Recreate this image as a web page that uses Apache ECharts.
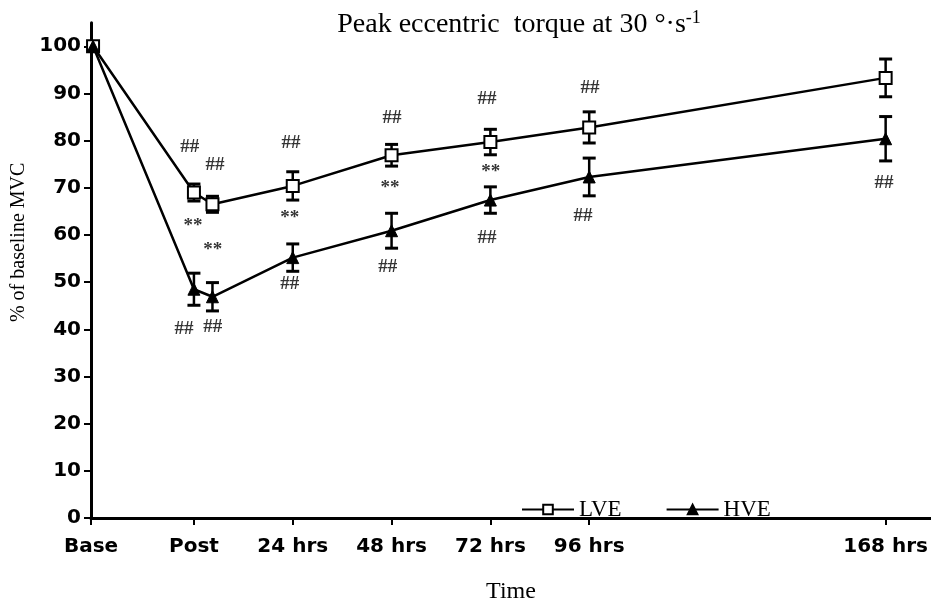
<!DOCTYPE html>
<html>
<head>
<meta charset="utf-8">
<script src="https://cdn.jsdelivr.net/npm/echarts@6/dist/echarts.min.js"></script>
<style>html,body{margin:0;padding:0;background:#fff;}#c{width:931px;height:609px;}</style>
</head>
<body>
<div id="c"></div>
<script>
// Time points (hours relative to end of exercise; Base drawn at the start of the axis)
var hours = [-24.5, 0, 4.5, 24, 48, 72, 96, 168];
var lveMean = [100, 69.0, 66.5, 70.4, 76.9, 79.7, 82.8, 93.3];
var lveErr  = [0, 1.8, 1.7, 3.0, 2.3, 2.7, 3.3, 4.0];
var hveMean = [100, 48.5, 46.9, 55.2, 60.9, 67.4, 72.3, 80.4];
var hveErr  = [0, 3.4, 3.0, 2.9, 3.7, 2.8, 4.0, 4.7];

// x tick positions and labels
var xTickValues = [-25, 0, 24, 48, 72, 96, 168];
var xTickLabels = ['Base', 'Post', '24 hrs', '48 hrs', '72 hrs', '96 hrs', '168 hrs'];
var yTickValues = [0, 10, 20, 30, 40, 50, 60, 70, 80, 90, 100];

// significance annotations
var annoX    = [-1.0, 5.1, 23.6, 48.1, 71.2, 96.2,   -0.2, 4.6, 23.3, 47.6, 72.1,   -2.4, 4.6, 23.3, 47.1, 71.2, 94.5, 167.6];
var annoY    = [78.6, 74.8, 79.5, 84.7, 88.8, 91.2,   61.9, 56.7, 63.6, 69.9, 73.3,   40.1, 40.5, 49.5, 53.1, 59.4, 64.0, 71.1];
var annoText = ['##','##','##','##','##','##',  '**','**','**','**','**',  '##','##','##','##','##','##','##'];

var chart = echarts.init(document.getElementById('c'));

function pairs(xs, ys) { return xs.map(function (x, i) { return [x, ys[i]]; }); }
function errData(xs, m, e) { return xs.map(function (x, i) { return [x, m[i] - e[i], m[i] + e[i]]; }).filter(function (d, i) { return e[i] > 0; }); }

function errRender(params, api) {
  var x = api.value(0);
  var lo = api.coord([x, api.value(1)]);
  var hi = api.coord([x, api.value(2)]);
  var w = 6.5;
  return {
    type: 'group',
    children: [
      { type: 'line', shape: { x1: lo[0], y1: lo[1], x2: hi[0], y2: hi[1] }, style: { stroke: '#000', lineWidth: 2.5 } },
      { type: 'line', shape: { x1: lo[0] - w, y1: lo[1], x2: lo[0] + w, y2: lo[1] }, style: { stroke: '#000', lineWidth: 3 } },
      { type: 'line', shape: { x1: hi[0] - w, y1: hi[1], x2: hi[0] + w, y2: hi[1] }, style: { stroke: '#000', lineWidth: 3 } }
    ]
  };
}

var annoData = annoX.map(function (x, i) { return { value: [x, annoY[i]], name: annoText[i] }; });

var option = {
  animation: false,
  backgroundColor: '#fff',
  title: {
    text: 'Peak eccentric  torque at 30 °·s{sup|-1}',
    left: 514, top: 4, textAlign: 'center',
    textStyle: {
      fontFamily: 'Liberation Serif', fontSize: 28, fontWeight: 'normal', color: '#000',
      rich: { sup: { fontFamily: 'Liberation Serif', fontSize: 18, verticalAlign: 'top', padding: [0, 0, 13, 0], color: '#000' } }
    }
  },
  legend: {
    left: 516, top: 493,
    itemWidth: 52, itemHeight: 12, itemGap: 44,
    data: ['LVE', 'HVE'],
    textStyle: { fontFamily: 'Liberation Serif', fontSize: 23, color: '#000' }
  },
  grid: { left: 91, right: 0, top: 22.7, bottom: 86, containLabel: false },
  xAxis: {
    type: 'value', min: -25, max: 179,
    name: 'Time', nameLocation: 'middle', nameGap: 62,
    nameTextStyle: { fontFamily: 'Liberation Serif', fontSize: 24, color: '#000' },
    splitLine: { show: false },
    axisLine: { onZero: false, lineStyle: { color: '#000', width: 3 } },
    axisTick: { customValues: xTickValues, length: 7, lineStyle: { color: '#000', width: 2 } },
    axisLabel: {
      customValues: xTickValues, margin: 19, color: '#000',
      fontFamily: 'DejaVu Sans', fontSize: 20, fontWeight: 'bold',
      formatter: function (v) { var i = xTickValues.indexOf(v); return i >= 0 ? xTickLabels[i] : ''; }
    }
  },
  yAxis: {
    type: 'value', min: 0, max: 105,
    name: '% of baseline MVC', nameLocation: 'middle', nameGap: 62, nameRotate: 90,
    nameTextStyle: { fontFamily: 'Liberation Serif', fontSize: 20, color: '#000', padding: [0, 0, 0, 56] },
    splitLine: { show: false },
    axisLine: { onZero: false, lineStyle: { color: '#000', width: 3 } },
    axisTick: { customValues: yTickValues, length: 7, lineStyle: { color: '#000', width: 2 } },
    axisLabel: { customValues: yTickValues, margin: 10, color: '#000', fontFamily: 'DejaVu Sans', fontSize: 20, fontWeight: 'bold' }
  },
  series: [
    {
      name: 'LVE', type: 'line', data: pairs(hours, lveMean),
      symbol: 'rect', symbolSize: 12, showAllSymbol: true, z: 3,
      lineStyle: { color: '#000', width: 2.5 },
      itemStyle: { color: '#fff', borderColor: '#000', borderWidth: 2 }
    },
    {
      name: 'HVE', type: 'line', data: pairs(hours, hveMean),
      symbol: 'triangle', symbolSize: 12, showAllSymbol: true, z: 3,
      lineStyle: { color: '#000', width: 2.5 },
      itemStyle: { color: '#000', borderColor: '#000', borderWidth: 1 }
    },
    { type: 'custom', renderItem: errRender, data: errData(hours, lveMean, lveErr), z: 2, silent: true },
    { type: 'custom', renderItem: errRender, data: errData(hours, hveMean, hveErr), z: 2, silent: true },
    {
      type: 'scatter', data: annoData, symbolSize: 0, silent: true,
      label: {
        show: true, position: 'inside', formatter: function (p) { return p.name; },
        fontFamily: 'Liberation Serif', fontSize: 19, fontWeight: 'bold', color: '#000'
      }
    }
  ]
};
chart.setOption(option);
</script>
</body>
</html>
